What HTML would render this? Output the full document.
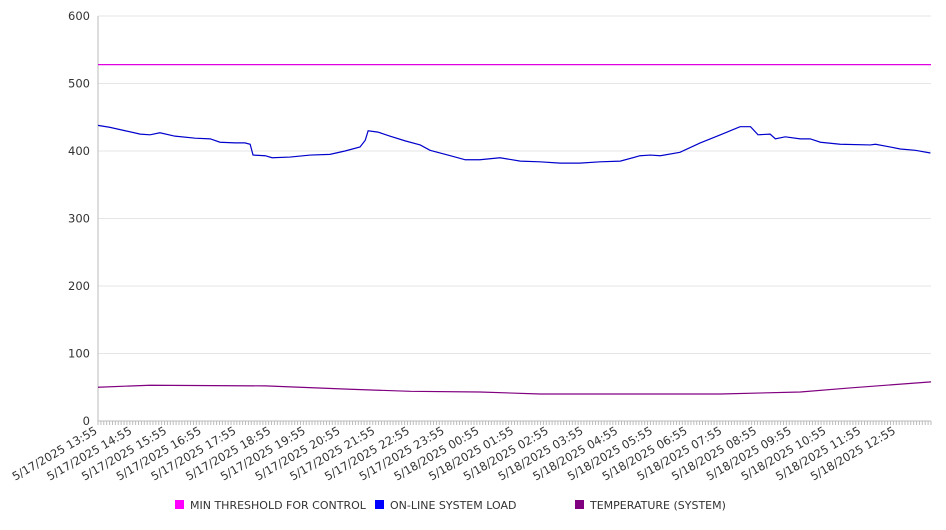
<!DOCTYPE html>
<html><head><meta charset="utf-8"><style>
body{margin:0;background:#fff;font-family:"DejaVu Sans","Liberation Sans",sans-serif}
svg text{font-family:"DejaVu Sans","Liberation Sans",sans-serif;fill:#333}
</style></head><body>
<svg id="chart" width="946" height="526" xmlns="http://www.w3.org/2000/svg"></svg>
<script>
const yTicks=[0,100,200,300,400,500,600];
const xLabels=["5/17/2025 13:55","5/17/2025 14:55","5/17/2025 15:55","5/17/2025 16:55","5/17/2025 17:55","5/17/2025 18:55","5/17/2025 19:55","5/17/2025 20:55","5/17/2025 21:55","5/17/2025 22:55","5/17/2025 23:55","5/18/2025 00:55","5/18/2025 01:55","5/18/2025 02:55","5/18/2025 03:55","5/18/2025 04:55","5/18/2025 05:55","5/18/2025 06:55","5/18/2025 07:55","5/18/2025 08:55","5/18/2025 09:55","5/18/2025 10:55","5/18/2025 11:55","5/18/2025 12:55"];
const loadMinutes=[0,21,47,73,90,107,133,168,194,211,237,254,263,268,289,301,332,367,401,427,453,462,467,484,505,531,557,574,609,635,660,695,730,764,799,833,868,903,937,955,972,1006,1041,1076,1110,1128,1141,1162,1171,1188,1214,1231,1249,1283,1335,1344,1369,1387,1413,1439];
const loadValues=[438,435,430,425,424,427,422,419,418,413,412,412,410,394,393,390,391,394,395,400,406,416,430,428,422,415,409,401,393,387,387,390,385,384,382,382,384,385,393,394,393,398,412,424,436,436,424,425,418,421,418,418,413,410,409,410,406,403,401,397];
const tempMinutes=[0,90,289,349,436,540,660,764,1076,1214,1300,1440];
const tempValues=[50,53,52,50,47,44,43,40,40,43,49,58];
const thresholdMinutes=[0,1440];
const thresholdValues=[528,528];
const NS="http://www.w3.org/2000/svg";
const svg=document.getElementById('chart');
const X0=98,X1=931,Y0=421,Y1=16,TOTAL=1440;
const xs=m=>X0+(X1-X0)*m/TOTAL;
const ys=v=>Y0-(Y0-Y1)*v/600;
function mk(t,a){const e=document.createElementNS(NS,t);for(const k in a)e.setAttribute(k,a[k]);svg.appendChild(e);return e;}
yTicks.forEach(v=>{
 const g=mk('line',{x1:X0,x2:X1,y1:ys(v),y2:ys(v),stroke:v===0?'#bbb':'#e6e6e6'});
 
 
 const t=mk('text',{x:90,y:ys(v)+4,'text-anchor':'end','font-size':'11.5'});
 t.textContent=v;
 
 
});
const ax=mk('line',{x1:X0,x2:X0,y1:Y1,y2:Y0,stroke:'#bbb'});


for(let m=0;m<=TOTAL;m+=5){
 const tk=mk('line',{x1:xs(m),x2:xs(m),y1:Y0,y2:Y0+4,stroke:'#bbb'});
 
 
}
xLabels.forEach((l,i)=>{
 const x=xs(i*60),y=Y0+12;
 const t=mk('text',{x:x,y:y,'text-anchor':'end','font-size':'11.5',transform:`rotate(-30 ${x} ${y})`});
 t.textContent=l;
 
 
});
function line(ms,vs,c,name){
 const p=mk('polyline',{points:ms.map((m,i)=>xs(m)+','+ys(vs[i])).join(' '),fill:'none',stroke:c,'stroke-width':1.2});
 
 
}
line(thresholdMinutes,thresholdValues,'#e000e0','threshold-line');
line(loadMinutes,loadValues,'#0000cc','system-load-line');
line(tempMinutes,tempValues,'#800080','temperature-line');
const leg=[['MIN THRESHOLD FOR CONTROL','#ff00ff',175],['ON-LINE SYSTEM LOAD','#0000ff',375],['TEMPERATURE (SYSTEM)','#800080',575]];
leg.forEach(([n,c,x])=>{
 const r=mk('rect',{x:x,y:500,width:9,height:9,fill:c});
 
 
 const t=mk('text',{x:x+15,y:509,'font-size':'11'});
 t.textContent=n;
 
 
});
</script>
</body></html>
